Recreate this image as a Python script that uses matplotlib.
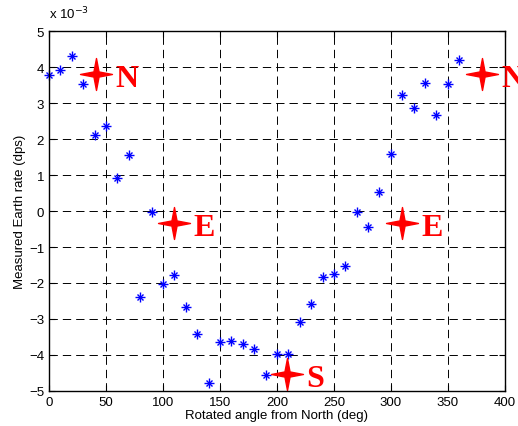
import matplotlib
matplotlib.use('Agg')
import matplotlib.pyplot as plt
from matplotlib.path import Path
import numpy as np

plt.rcParams['font.family'] = 'Liberation Sans'
plt.rcParams['lines.scale_dashes'] = False

# measured earth rate (x 1e-3 dps) vs rotation angle
angle = [0, 10, 20, 30, 40, 50, 60, 70, 80, 90, 100, 110, 120, 130, 140, 150, 160, 170, 180,
         190, 200, 210, 220, 230, 240, 250, 260, 270, 280, 290, 300, 310, 320, 330, 340, 350, 360]
rate = [3.78, 3.93, 4.32, 3.53, 2.12, 2.35, 0.92, 1.56, -2.38, -0.02, -2.03, -1.77, -2.68,
        -3.42, -4.77, -3.65, -3.6, -3.7, -3.84, -4.55, -3.98, -3.97, -3.08, -2.57, -1.84,
        -1.75, -1.52, -0.04, -0.45, 0.53, 1.58, 3.22, 2.85, 3.55, 2.67, 3.53, 4.2]

# compass markers
dir_x = [41, 110, 209, 310, 380]
dir_y = [3.8, -0.33, -4.52, -0.33, 3.8]
dir_lab = ['N', 'E', 'S', 'E', 'N']

# four pointed star path
k = 0.16
star = Path([(0, 1), (k, k), (1, 0), (k, -k), (0, -1), (-k, -k), (-1, 0), (-k, k), (0, 1)],
            [Path.MOVETO] + [Path.LINETO] * 7 + [Path.CLOSEPOLY])

fig = plt.figure(figsize=(5.18, 4.27), dpi=100)
ax = fig.add_axes([0.0946, 0.082, 0.880, 0.843])

ax.plot(angle, rate, linestyle='none', marker='+', color='blue', markersize=7,
        markeredgewidth=1, clip_on=False)
ax.plot(angle, rate, linestyle='none', marker='x', color='blue', markersize=4.5,
        markeredgewidth=1, clip_on=False)

ax.plot(dir_x, dir_y, linestyle='none', marker=star, color='red', markersize=23, clip_on=False)
for x, y, s in zip(dir_x, dir_y, dir_lab):
    ax.text(x + 17, y - 0.12, s, color='red', fontsize=23, fontweight='bold',
            family='Liberation Serif', ha='left', va='center')

ax.set_xlim(0, 400)
ax.set_ylim(-5, 5)
ax.set_xticks(np.arange(0, 401, 50))
ax.set_yticks(np.arange(-5, 6, 1))
ax.tick_params(direction='in', top=True, right=True, labelsize=9.5, length=4)
ax.grid(True, color='black', linestyle=(0, (6, 3.6)), linewidth=0.7)
for sp in ax.spines.values():
    sp.set_linewidth(1.0)

ax.set_xlabel('Rotated angle from North (deg)', fontsize=9.5, labelpad=1)
ax.set_ylabel('Measured Earth rate (dps)', fontsize=9.5, labelpad=2)
fig.text(0.094, 0.955, r'x 10$^{-3}$', fontsize=9.5)

fig.savefig('out.png', dpi=100)
